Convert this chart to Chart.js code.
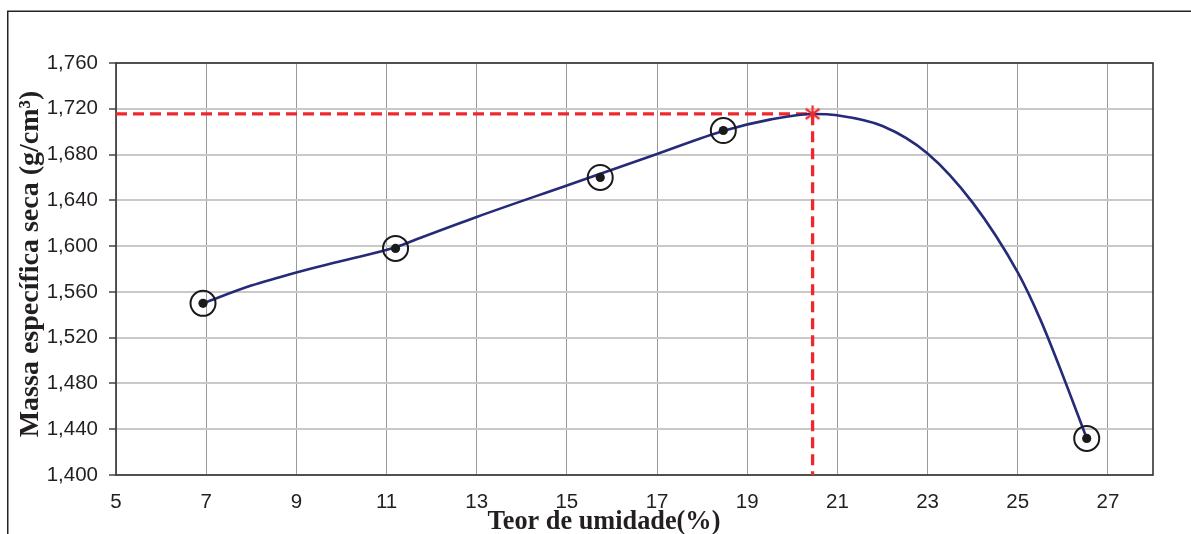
<!DOCTYPE html>
<html lang="pt">
<head>
<meta charset="utf-8">
<title>Curva de compactação</title>
<script src="https://cdn.jsdelivr.net/npm/chart.js@4.4.1/dist/chart.umd.min.js"></script>
<style>
  html, body { margin: 0; padding: 0; background: #ffffff; }
  canvas { display: block; }
</style>
</head>
<body>
<canvas id="chart" width="1191" height="534"></canvas>
<script>
// Ensaios de compactação: teor de umidade (%) e massa específica seca (g/cm³)
const moisture = [6.93, 11.2, 15.74, 18.47, 26.53];
const dryDensity = [1.550, 1.598, 1.660, 1.701, 1.432];

// Curva de compactação traçada (pontos lidos ao longo da curva)
const curveMoisture = [6.93, 8.0, 9.0, 10.0, 11.2, 11.8, 13.0, 15.0, 17.0, 18.5, 19.5, 20.45, 21.0, 22.0, 23.0, 24.0, 25.0, 25.5, 26.0, 26.53];
const curveDensity  = [1.550, 1.5655, 1.577, 1.587, 1.599, 1.608, 1.6255, 1.653, 1.6805, 1.701, 1.7105, 1.7155, 1.7143, 1.705, 1.681, 1.638, 1.577, 1.536, 1.487, 1.432];

// Umidade ótima e massa específica seca máxima
const optimumMoisture = 20.45;
const maxDryDensity = 1.7155;

// Rótulos dos eixos
const xTickValues = [5, 7, 9, 11, 13, 15, 17, 19, 21, 23, 25, 27];
const yTickValues = [1.40, 1.44, 1.48, 1.52, 1.56, 1.60, 1.64, 1.68, 1.72, 1.76];
const xTitle = 'Teor de umidade(%)';
const yTitle = 'Massa específica seca (g/cm³)';

const zip = (xs, ys) => xs.map((x, i) => ({ x: x, y: ys[i] }));

// Marcador em asterisco para o ponto ótimo
function asteriskMarker(size, color) {
  const c = document.createElement('canvas');
  c.width = size; c.height = size;
  const g = c.getContext('2d');
  const m = size / 2, r = size / 2 - 1;
  g.strokeStyle = color; g.lineWidth = 2.2; g.lineCap = 'butt';
  g.beginPath();
  g.moveTo(m, m - r); g.lineTo(m, m + r);
  for (const a of [Math.PI / 5, -Math.PI / 5]) {
    g.moveTo(m - r * Math.cos(a), m - r * Math.sin(a));
    g.lineTo(m + r * Math.cos(a), m + r * Math.sin(a));
  }
  g.stroke();
  return c;
}

const frameAndTitles = {
  id: 'frameAndTitles',
  beforeDraw(chart) {
    const ctx = chart.ctx;
    ctx.save();
    ctx.fillStyle = '#ffffff';
    ctx.fillRect(0, 0, chart.width, chart.height);
    ctx.strokeStyle = '#222222';
    ctx.lineWidth = 1.5;
    ctx.beginPath();
    ctx.moveTo(7.75, chart.height);
    ctx.lineTo(7.75, 11.25);
    ctx.lineTo(chart.width, 11.25);
    ctx.stroke();
    ctx.restore();
  },
  beforeDatasetsDraw(chart) {
    const { ctx, chartArea: a } = chart;
    ctx.save();
    ctx.strokeStyle = '#333333';
    ctx.lineWidth = 1.6;
    ctx.strokeRect(a.left, a.top, a.right - a.left, a.bottom - a.top);
    ctx.restore();
  },
  afterDraw(chart) {
    const ctx = chart.ctx;
    ctx.save();
    ctx.fillStyle = '#231f20';
    ctx.textAlign = 'center';
    ctx.textBaseline = 'middle';
    ctx.font = 'bold 26.3px "Liberation Serif", "Times New Roman", serif';
    ctx.fillText(xTitle, 604, 522);
    ctx.translate(31, 264);
    ctx.rotate(-Math.PI / 2);
    ctx.font = 'bold 28px "Liberation Serif", "Times New Roman", serif';
    ctx.fillText(yTitle, 0, 0);
    ctx.restore();
  }
};

const tickFont = { family: '"Liberation Sans", Arial, sans-serif', size: 20.5 };

new Chart(document.getElementById('chart'), {
  type: 'scatter',
  data: {
    datasets: [
      {
        label: 'Pontos (anel)',
        data: zip(moisture, dryDensity),
        pointStyle: 'circle',
        pointRadius: 12.5,
        pointBorderWidth: 2,
        pointBorderColor: '#1a1a1a',
        pointBackgroundColor: 'rgba(255,255,255,0)',
        showLine: false,
        order: 1
      },
      {
        label: 'Pontos',
        data: zip(moisture, dryDensity),
        pointStyle: 'circle',
        pointRadius: 4.6,
        pointBorderWidth: 0,
        pointBackgroundColor: '#1a1a1a',
        showLine: false,
        order: 0
      },
      {
        label: 'Curva de compactação',
        data: zip(curveMoisture, curveDensity),
        showLine: true,
        borderColor: '#252b78',
        borderWidth: 2.6,
        pointRadius: 0,
        cubicInterpolationMode: 'monotone',
        order: 2
      },
      {
        label: 'Ótimo',
        data: [
          { x: xTickValues[0], y: maxDryDensity },
          { x: optimumMoisture, y: maxDryDensity },
          { x: optimumMoisture, y: yTickValues[0] }
        ],
        showLine: true,
        borderColor: '#ec2a2e',
        borderWidth: 3.3,
        borderDash: [11, 6],
        pointRadius: 0,
        tension: 0,
        order: 3
      },
      {
        label: 'Ponto ótimo',
        data: [{ x: optimumMoisture, y: maxDryDensity }],
        pointStyle: asteriskMarker(19, '#ec2a2e'),
        pointRadius: 9,
        showLine: false,
        order: 0
      }
    ]
  },
  options: {
    responsive: false,
    animation: false,
    events: [],
    layout: { padding: { top: 63, right: 38, left: 0, bottom: 0 } },
    plugins: {
      legend: { display: false },
      tooltip: { enabled: false }
    },
    scales: {
      x: {
        type: 'linear',
        min: 5,
        max: 28,
        afterBuildTicks: (axis) => { axis.ticks = xTickValues.map(v => ({ value: v })); },
        afterFit: (axis) => { axis.height = 59; },
        grid: { color: '#9a9a9a', lineWidth: 1, drawTicks: false },
        border: { display: false },
        ticks: {
          font: tickFont,
          color: '#231f20',
          padding: 15,
          maxRotation: 0,
          callback: (v) => String(v)
        }
      },
      y: {
        type: 'linear',
        min: 1.40,
        max: 1.76,
        afterBuildTicks: (axis) => { axis.ticks = yTickValues.map(v => ({ value: v })); },
        afterFit: (axis) => { axis.width = 116; },
        grid: { color: '#c9c9c9', lineWidth: 2, tickLength: 7, tickColor: '#444444', tickWidth: 1.5 },
        border: { display: false },
        ticks: {
          font: tickFont,
          color: '#231f20',
          padding: 11,
          callback: (v) => v.toFixed(3).replace('.', ',')
        }
      }
    }
  },
  plugins: [frameAndTitles]
});
</script>
</body>
</html>
